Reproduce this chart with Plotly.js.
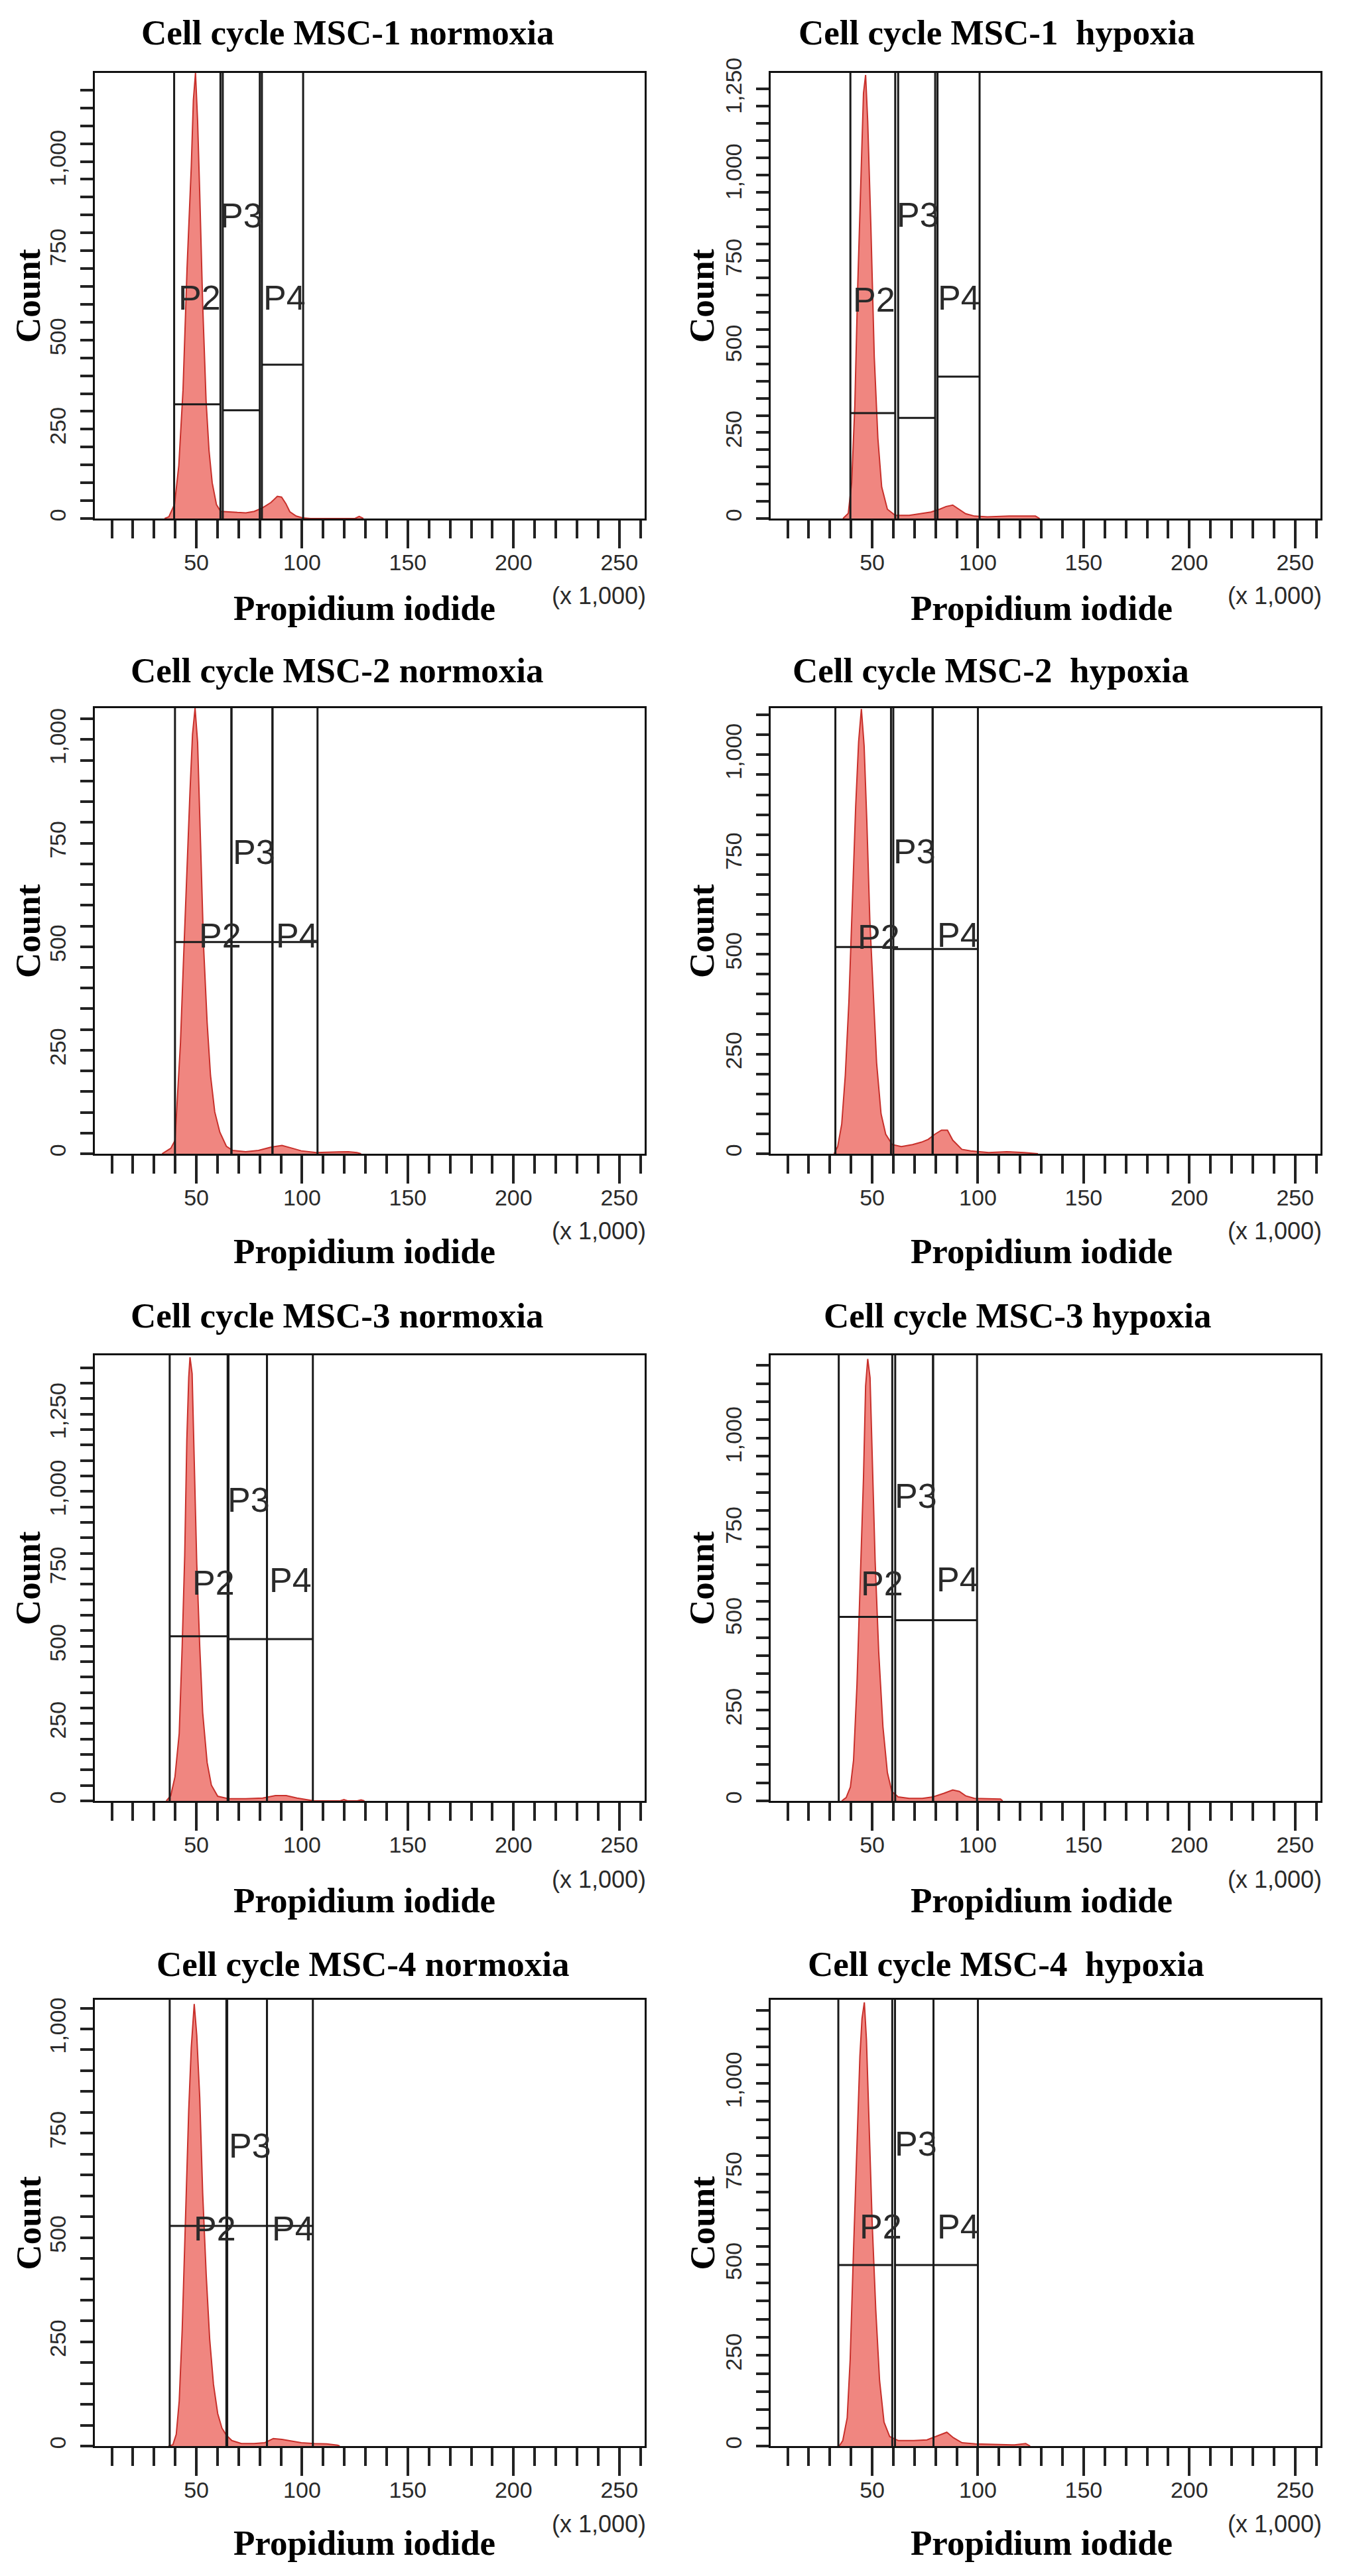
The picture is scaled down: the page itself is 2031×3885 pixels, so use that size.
<!DOCTYPE html>
<html><head><meta charset="utf-8">
<script src="https://cdn.plot.ly/plotly-3.0.1.min.js"></script>
<style>html,body{margin:0;padding:0;background:#fff}#chart{width:2031px;height:3885px}</style>
</head><body><div id="chart"></div>
<script>
// ---------- DATA (PI fluorescence in thousands, counts) ----------
const panelTitles = [
  "Cell cycle MSC-1 normoxia", "Cell cycle MSC-1\u00a0 hypoxia",
  "Cell cycle MSC-2 normoxia", "Cell cycle MSC-2\u00a0 hypoxia",
  "Cell cycle MSC-3 normoxia", "Cell cycle MSC-3 hypoxia",
  "Cell cycle MSC-4 normoxia", "Cell cycle MSC-4\u00a0 hypoxia"
];
const xAxisTitle = "Propidium iodide";
const yAxisTitle = "Count";
const xScaleNote = "(x 1,000)";
const gateNames = ["P2", "P3", "P4"];

const p1x = [35, 37, 39.7, 41.7, 43.7, 45.6, 47.6, 48.6, 49.6, 50.6, 51.6, 53.0, 54.6, 56.0, 57.5, 59.5, 61.5, 65.5, 69.4, 73.4, 77.4, 81.3, 85.3, 88.3, 90.3, 92.3, 94.2, 97.2, 100.2, 104, 125, 127, 129];
const p1y = [0, 5, 40, 148, 360, 700, 985, 1172, 1248, 1113, 911, 600, 330, 190, 100, 39, 20, 18, 17, 16, 20, 30, 45, 62, 60, 42, 19, 7, 2, 0, 0, 6, 0];

const p2x = [36.2, 38.7, 40.3, 41.8, 43.2, 44.9, 45.9, 46.9, 47.9, 49.4, 51.0, 52.7, 54.5, 57.2, 60.9, 67.5, 73.7, 77.8, 81.9, 85.0, 88.1, 91.2, 94.2, 98.4, 104.5, 114.8, 118.9, 127.2, 129.2];
const p2y = [0, 15, 104, 328, 683, 1037, 1238, 1291, 1155, 848, 470, 234, 92, 27, 9, 9, 15, 19, 27, 35, 39, 27, 14, 7, 5, 7, 7, 7, 0];

const p3x = [33.8, 37.9, 39.9, 40.9, 42.5, 43.9, 45.3, 47.0, 48.2, 49.4, 50.6, 52.0, 53.4, 55.1, 56.7, 58.7, 61.1, 64.2, 67.2, 73.3, 79.4, 85.4, 90.5, 95.5, 99.6, 106.7, 121.9, 125.9, 127.9];
const p3y = [0, 13, 32, 121, 268, 464, 660, 875, 1013, 1076, 993, 758, 503, 317, 189, 101, 52, 18, 8, 5, 8, 16, 20, 13, 7, 3, 5, 3, 0];

const p4x = [32.0, 33.7, 35.6, 37.3, 39.0, 40.7, 42.2, 43.6, 44.9, 46.2, 47.5, 48.9, 50.6, 52.1, 54.2, 56.4, 59.5, 63.8, 69.1, 73.3, 76.5, 79.7, 82.8, 85.6, 88.1, 92.4, 96.6, 105.1, 113.6, 122.0, 128.4];
const p4y = [0, 18, 74, 197, 381, 636, 870, 1033, 1115, 1022, 830, 585, 381, 228, 100, 49, 23, 18, 23, 29, 36, 49, 59, 59, 34, 11, 7, 3, 5, 3, 0];

const p5x = [35.8, 37.9, 39.9, 41.9, 43.3, 44.5, 45.5, 46.4, 47.0, 48.0, 49.0, 50.2, 51.6, 53.0, 55.1, 57.1, 60.1, 65.2, 73.3, 81.4, 87.4, 92.5, 97.6, 101.6, 105.7, 118.0, 119.8, 121.5, 126.0, 127.9, 129.5];
const p5y = [0, 17, 78, 218, 499, 793, 1167, 1368, 1434, 1381, 1100, 766, 499, 285, 124, 51, 15, 7, 7, 9, 17, 17, 9, 4, 0, 0, 4, 0, 0, 3, 0];

const p6x = [35.6, 37.7, 39.7, 41.2, 42.8, 44.4, 45.9, 46.9, 47.9, 49.0, 50.2, 51.4, 53.1, 55.1, 57.2, 59.3, 62.3, 67.5, 73.7, 78.8, 84.0, 88.1, 91.2, 94.2, 98.4, 104.5, 110.7, 111.7];
const p6y = [0, 9, 38, 112, 318, 593, 891, 1143, 1218, 1166, 914, 662, 410, 204, 78, 26, 11, 7, 7, 11, 21, 30, 26, 14, 7, 6, 5, 0];

const p7x = [36.8, 38.9, 40.5, 41.9, 43.3, 44.9, 46.4, 47.6, 49.0, 50.2, 51.6, 53.0, 54.7, 56.3, 58.1, 60.1, 62.1, 64.2, 66.8, 71.3, 77.3, 82.4, 86.4, 90.5, 95.5, 99.6, 105.7, 111.7, 116.8, 117.8];
const p7y = [0, 3, 28, 108, 277, 536, 806, 955, 1060, 985, 836, 606, 407, 257, 148, 78, 43, 26, 13, 6, 6, 8, 18, 16, 12, 8, 6, 5, 2, 0];

const p8x = [34.4, 36.1, 38.2, 39.6, 41.1, 42.7, 44.2, 45.2, 46.3, 47.3, 48.5, 50.0, 51.7, 53.5, 55.6, 58.3, 62.4, 69.7, 75.9, 80.1, 83.2, 85.3, 88.4, 92.5, 98.8, 107.1, 117.4, 122.6, 124.7];
const p8y = [0, 15, 78, 238, 525, 811, 1074, 1178, 1223, 1120, 891, 616, 376, 181, 66, 26, 15, 15, 17, 26, 34, 38, 23, 9, 6, 5, 3, 7, 0];

// y-axis maximum of each panel (counts)
const yMax = [1248, 1297, 1076, 1117, 1440, 1228, 1070, 1230];
// x-axis range (thousands)
const xRange = [2, 262];

// gates: [left, right, level] for P2, P3, P4 in each panel
const gates1 = [[39.5, 61.4, 320], [62.5, 80.0, 303], [81.0, 100.5, 431]];
const gates2 = [[39.7, 60.9, 307], [62.3, 79.8, 293], [80.9, 100.8, 413]];
const gates3 = [[39.9, 66.6, 511], [66.6, 86.0, 511], [86.0, 107.3, 511]];
const gates4 = [[32.6, 58.9, 518], [60.0, 78.6, 513], [78.6, 100.0, 513]];
const gates5 = [[37.4, 64.8, 532], [65.2, 83.4, 523], [83.4, 105.1, 523]];
const gates6 = [[34.2, 59.5, 507], [60.9, 78.8, 498], [78.8, 99.6, 498]];
const gates7 = [[37.4, 64.2, 528], [64.6, 83.4, 528], [83.4, 105.1, 528]];
const gates8 = [[34.0, 59.5, 499], [60.8, 79.0, 499], [79.0, 100.0, 499]];

// gate label anchor points [x, count] for P2, P3, P4
const labels1 = [[51.6, 619], [71.4, 848], [91.7, 619]];
const labels2 = [[51.0, 636], [71.6, 884], [91.2, 642]];
const labels3 = [[61.4, 527], [77.3, 728], [97.6, 527]];
const labels4 = [[53.2, 544], [70.1, 758], [90.7, 549]];
const labels5 = [[58.1, 706], [74.9, 973], [94.5, 713]];
const labels6 = [[54.7, 599], [70.6, 840], [90.5, 611]];
const labels7 = [[58.7, 521], [75.5, 721], [95.7, 521]];
const labels8 = [[54.1, 605], [70.7, 834], [90.9, 605]];

// ---------- LAYOUT GEOMETRY (pixels) ----------
const W = 2031, H = 3885;
const colL = [143, 1162], colR = [972, 1991];
const rowT = [110, 1068, 2044, 3016], rowB = [782, 1740, 2716, 3689];
const titleXpx = [524, 1503, 508, 1494, 508, 1534, 547, 1517];
const titleYpx = [49, 1011, 1984, 2962];
const xTitleXpx = [549, 1570];
const xTitleYpx = [917, 1887, 2866, 3835];
const countXpx = [42, 1058];
const noteYpx = [899, 1856, 2834, 3806];

const xs = [p1x, p2x, p3x, p4x, p5x, p6x, p7x, p8x];
const ys = [p1y, p2y, p3y, p4y, p5y, p6y, p7y, p8y];
const gates = [gates1, gates2, gates3, gates4, gates5, gates6, gates7, gates8];
const labels = [labels1, labels2, labels3, labels4, labels5, labels6, labels7, labels8];

const px2x = p => p / W;
const px2y = p => 1 - p / H;

const data = [];
const layout = {
  width: W, height: H, margin: {l: 0, r: 0, t: 0, b: 0},
  paper_bgcolor: '#fff', plot_bgcolor: '#fff', showlegend: false,
  shapes: [], annotations: []
};

const tickFont = {family: 'Liberation Sans, Arial, sans-serif', size: 34, color: '#2a2a2a'};
const noteFont = {family: 'Liberation Sans, Arial, sans-serif', size: 36, color: '#2a2a2a'};
const serifBold = {family: 'Liberation Serif, Times New Roman, serif', size: 53, color: '#000'};

for (let i = 0; i < 8; i++) {
  const col = i % 2, row = Math.floor(i / 2);
  const n = i === 0 ? '' : String(i + 1);
  const xa = 'x' + n, ya = 'y' + n;

  data.push({
    type: 'scatter', mode: 'lines', x: xs[i], y: ys[i],
    xaxis: xa, yaxis: ya, fill: 'tozeroy', fillcolor: '#f08680',
    line: {color: '#c8302b', width: 2}, hoverinfo: 'skip'
  });

  layout['xaxis' + n] = {
    domain: [px2x(colL[col]), px2x(colR[col])], range: xRange, anchor: ya,
    showline: true, mirror: true, linecolor: '#111', linewidth: 3,
    ticks: 'outside', ticklen: 42, tickwidth: 4, tickcolor: '#222',
    tick0: 0, dtick: 50, tickfont: tickFont, ticklabelstandoff: -8,
    minor: {tick0: 0, dtick: 10, ticks: 'outside', ticklen: 27, tickwidth: 4, tickcolor: '#222', showgrid: false},
    showgrid: false, zeroline: false, fixedrange: true
  };
  layout['yaxis' + n] = {
    domain: [px2y(rowB[row]), px2y(rowT[row])], range: [0, yMax[i]], anchor: xa,
    showline: true, mirror: true, linecolor: '#111', linewidth: 3,
    ticks: 'outside', ticklen: 19, tickwidth: 4, tickcolor: '#222',
    tick0: 0, dtick: 250, tickformat: ',d', tickangle: -90, tickfont: tickFont,
    ticklabelstandoff: 8,
    minor: {tick0: 0, dtick: 50, ticks: 'outside', ticklen: 19, tickwidth: 4, tickcolor: '#222', showgrid: false},
    showgrid: false, zeroline: false, fixedrange: true
  };

  // gates
  gates[i].forEach(g => {
    [g[0], g[1]].forEach(xv => layout.shapes.push({
      type: 'line', xref: xa, yref: ya + ' domain', x0: xv, x1: xv, y0: 0, y1: 1,
      line: {color: '#1a1a1a', width: 3}
    }));
    layout.shapes.push({
      type: 'line', xref: xa, yref: ya, x0: g[0], x1: g[1], y0: g[2], y1: g[2],
      line: {color: '#1a1a1a', width: 3}
    });
  });
  labels[i].forEach((l, k) => layout.annotations.push({
    xref: xa, yref: ya, x: l[0], y: l[1], text: gateNames[k], showarrow: false,
    font: {family: 'Liberation Sans, Arial, sans-serif', size: 52, color: '#2a2a2a'},
    xanchor: 'center', yanchor: 'middle'
  }));

  // panel title
  layout.annotations.push({
    xref: 'paper', yref: 'paper', x: px2x(titleXpx[i]), y: px2y(titleYpx[row]),
    text: '<b>' + panelTitles[i] + '</b>', showarrow: false, font: serifBold,
    xanchor: 'center', yanchor: 'middle'
  });
  // x title
  layout.annotations.push({
    xref: 'paper', yref: 'paper', x: px2x(xTitleXpx[col]), y: px2y(xTitleYpx[row]),
    text: '<b>' + xAxisTitle + '</b>', showarrow: false, font: serifBold,
    xanchor: 'center', yanchor: 'middle'
  });
  // y title
  layout.annotations.push({
    xref: 'paper', yref: 'paper', x: px2x(countXpx[col]), y: px2y((rowT[row] + rowB[row]) / 2),
    text: '<b>' + yAxisTitle + '</b>', showarrow: false, font: serifBold, textangle: -90,
    xanchor: 'center', yanchor: 'middle'
  });
  // scale note
  layout.annotations.push({
    xref: 'paper', yref: 'paper', x: px2x(colR[col] + 4), y: px2y(noteYpx[row]),
    text: xScaleNote, showarrow: false, font: noteFont,
    xanchor: 'right', yanchor: 'middle'
  });
}

Plotly.newPlot('chart', data, layout, {staticPlot: true, displayModeBar: false});
</script>
</body></html>
